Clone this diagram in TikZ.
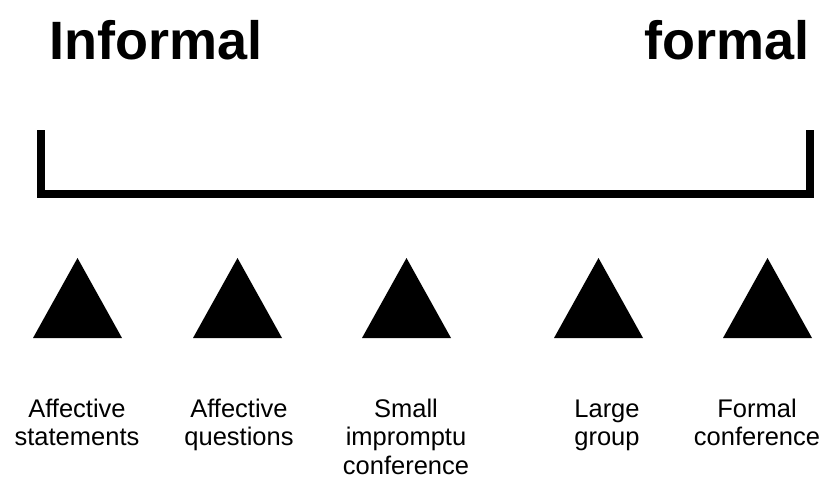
\documentclass[tikz,border=0pt]{standalone}
\usepackage{fontspec}
\setmainfont{Liberation Sans}
\begin{document}
\begin{tikzpicture}[x=1pt,y=1pt,
  title/.style={font=\fontsize{54}{60}\selectfont\bfseries, inner sep=0pt},
  lbl/.style={font=\fontsize{25.5}{28.5}\selectfont, align=center, inner sep=0pt, anchor=north},
  tri/.style={fill=black},
  bracketline/.style={line width=7.5pt, line join=miter, line cap=butt}]
\useasboundingbox[fill=white] (0,0) rectangle (828,-482);
\node[title, anchor=base west] (inf) at (49,-59) {Informal};
\node[title, anchor=base east] (frm) at (810,-59) {formal};
\coordinate (bl) at (41,-130);
\coordinate (br) at (810,-130);
\draw[bracketline] (bl) -- (41,-194) -- (810,-194) -- (br);
\foreach \c/\n in {77.5/t1, 237.5/t2, 406.5/t3, 598.5/t4, 767.5/t5}{
  \fill[tri] (\c-44.5,-338) -- (\c,-258) -- (\c+44.5,-338) -- cycle;
}
\node[lbl] (l1) at (77,-398.5) {\vphantom{Af}Affective\\statements};
\node[lbl] (l2) at (239,-398.5) {\vphantom{Af}Affective\\questions};
\node[lbl] (l3) at (406,-398.5) {\vphantom{Af}Small\\impromptu\\conference};
\node[lbl] (l4) at (607,-398.5) {\vphantom{Af}Large\\group};
\node[lbl] (l5) at (757,-398.5) {\vphantom{Af}Formal\\conference};
\end{tikzpicture}
\end{document}
